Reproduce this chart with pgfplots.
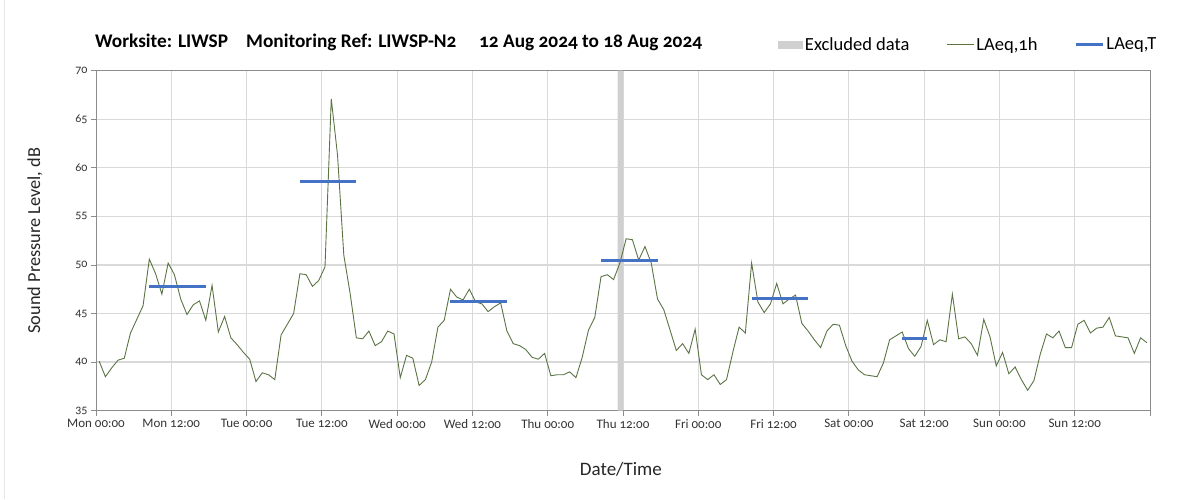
\documentclass[border=0pt]{standalone}
\usepackage{fontspec}
\setmainfont{Carlito}[Numbers=OldStyle]
\usepackage{pgfplots}
\usepackage{pgfplotstable}
\pgfplotsset{compat=1.18}
\definecolor{laeq}{HTML}{5B7444}
\definecolor{laeqT}{HTML}{4472C4}
\definecolor{excl}{HTML}{D0D0D0}
\definecolor{gridc}{HTML}{D9D9D9}
\definecolor{axisc}{HTML}{8C8C8C}

\pgfplotstableread{
x y
0.5 40.1
1.5 38.5
2.5 39.4
3.5 40.2
4.5 40.4
5.5 43.0
6.5 44.4
7.5 45.8
8.5 50.6
9.5 49.1
10.5 47.0
11.5 50.2
12.5 49.0
13.5 46.5
14.5 44.9
15.5 45.9
16.5 46.3
17.5 44.3
18.5 47.9
19.5 43.1
20.5 44.7
21.5 42.5
22.5 41.8
23.5 41.0
24.5 40.3
25.5 38.0
26.5 38.9
27.5 38.7
28.5 38.2
29.5 42.8
30.5 43.9
31.5 45.0
32.5 49.1
33.5 49.0
34.5 47.8
35.5 48.4
36.5 49.8
37.5 67.1
38.5 61.3
39.5 51.0
40.5 47.1
41.5 42.5
42.5 42.4
43.5 43.2
44.5 41.7
45.5 42.1
46.5 43.2
47.5 42.9
48.5 38.4
49.5 40.7
50.5 40.4
51.5 37.6
52.5 38.2
53.5 40.0
54.5 43.6
55.5 44.3
56.5 47.5
57.5 46.7
58.5 46.4
59.5 47.5
60.5 46.2
61.5 46.0
62.5 45.2
63.5 45.7
64.5 46.1
65.5 43.2
66.5 41.9
67.5 41.7
68.5 41.3
69.5 40.5
70.5 40.3
71.5 40.9
72.5 38.6
73.5 38.7
74.5 38.7
75.5 39.0
76.5 38.4
77.5 40.5
78.5 43.3
79.5 44.6
80.5 48.8
81.5 49.0
82.5 48.5
83.5 50.2
84.5 52.7
85.5 52.6
86.5 50.5
87.5 51.9
88.5 50.2
89.5 46.5
90.5 45.4
91.5 43.3
92.5 41.2
93.5 41.9
94.5 40.9
95.5 43.4
96.5 38.7
97.5 38.2
98.5 38.7
99.5 37.7
100.5 38.2
101.5 41.0
102.5 43.6
103.5 43.0
104.5 50.2
105.5 46.2
106.5 45.1
107.5 46.0
108.5 48.1
109.5 46.0
110.5 46.5
111.5 46.9
112.5 44.0
113.5 43.2
114.5 42.3
115.5 41.5
116.5 43.2
117.5 43.9
118.5 43.8
119.5 41.7
120.5 40.1
121.5 39.2
122.5 38.7
123.5 38.6
124.5 38.5
125.5 39.9
126.5 42.3
127.5 42.7
128.5 43.1
129.5 41.4
130.5 40.6
131.5 41.6
132.5 44.3
133.5 41.8
134.5 42.3
135.5 42.1
136.5 47.0
137.5 42.4
138.5 42.6
139.5 41.9
140.5 40.7
141.5 44.4
142.5 42.6
143.5 39.6
144.5 41.0
145.5 38.8
146.5 39.5
147.5 38.2
148.5 37.1
149.5 38.1
150.5 40.8
151.5 42.9
152.5 42.5
153.5 43.2
154.5 41.5
155.5 41.5
156.5 43.9
157.5 44.3
158.5 43.0
159.5 43.5
160.5 43.6
161.5 44.6
162.5 42.7
163.5 42.6
164.5 42.5
165.5 40.9
166.5 42.5
167.5 42.0
}\hourly

\pgfplotstableread{
x y
8.5 47.8
17.5 47.8
18 nan
32.5 58.6
41.5 58.6
42 nan
56.5 46.2
65.5 46.2
66 nan
80.5 50.5
89.5 50.5
90 nan
104.5 46.6
113.5 46.6
114 nan
128.5 42.4
132.5 42.4
}\periods

\begin{document}
\begin{tikzpicture}[x=1pt,y=1pt]
\useasboundingbox (0,0) rectangle (1203,499);
\draw[gray!18] (4,0) -- (4,499);
\node[anchor=base west, inner sep=0, font=\bfseries\fontsize{19.3}{22}\selectfont] at (95,451) {Worksite: LIWSP};
\node[anchor=base west, inner sep=0, font=\bfseries\fontsize{19.3}{22}\selectfont] at (246,451) {Monitoring Ref: LIWSP-N2};
\node[anchor=base west, inner sep=0, font=\bfseries\fontsize{19.3}{22}\selectfont] at (479,451) {12 Aug 2024 to 18 Aug 2024};
\begin{axis}[
  at={(96pt,88.3pt)}, anchor=south west,
  width=1054pt, height=340pt, scale only axis,
  xmin=0, xmax=168, ymin=35, ymax=70,
  xtick={0,12,...,168},
  xticklabels={Mon 00:00, Mon 12:00, Tue 00:00, Tue 12:00, Wed 00:00, Wed 12:00, Thu 00:00, Thu 12:00, Fri 00:00, Fri 12:00, Sat 00:00, Sat 12:00, Sun 00:00, Sun 12:00, {}},
  ytick={35,40,...,70},
  grid=major,
  x grid style={gridc, line width=0.8pt},
  y grid style={gridc, line width=1.3pt},
  axis line style={axisc, line width=0.9pt},
  tick style={axisc, line width=0.9pt},
  tick align=outside, major tick length=5pt, tick pos=left,
  /pgf/number format/assume math mode=true,
  xticklabel style={font=\fontsize{13}{15}\selectfont, text=black!80},
  yticklabel style={font=\fontsize{12}{14}\selectfont, text=black!80},
  xlabel={Date/Time}, ylabel={Sound Pressure Level, dB},
  xlabel style={font=\fontsize{19}{22}\selectfont, text=black!85, at={(axis description cs:0.498,-0.1715)}, anchor=center},
  ylabel style={font=\fontsize{18.3}{21}\selectfont, text=black!85, at={(axis description cs:-0.0579,0.5)}, anchor=center},
  unbounded coords=jump,
  legend columns=3,
  legend style={at={(axis description cs:0.644,1.077)}, anchor=west, draw=none, fill=none,
    font=\fontsize{18.5}{21}\selectfont, nodes={inner xsep=2pt},
    /tikz/every even column/.append style={column sep=35pt}},
]
\addplot[draw=none, fill=excl, area legend,
  legend image code/.code={\fill[excl] (0pt,-4pt) rectangle (25pt,4pt);}]
  coordinates {(83.15,35) (83.15,70) (84,70) (84,35)} \closedcycle;
\addlegendentry{Excluded data}
\addplot[laeq, line width=0.9pt,
  legend image code/.code={\draw[laeq, line width=0.9pt] (0pt,0pt) -- (27pt,0pt);}]
  table[x=x, y=y] {\hourly};
\addlegendentry{LAeq,1h}
\addplot[laeqT, line width=3pt,
  legend image code/.code={\draw[laeqT, line width=3pt] (0pt,0pt) -- (27pt,0pt);}]
  table[x=x, y=y] {\periods};
\addlegendentry{LAeq,T}
\end{axis}
\end{tikzpicture}
\end{document}
